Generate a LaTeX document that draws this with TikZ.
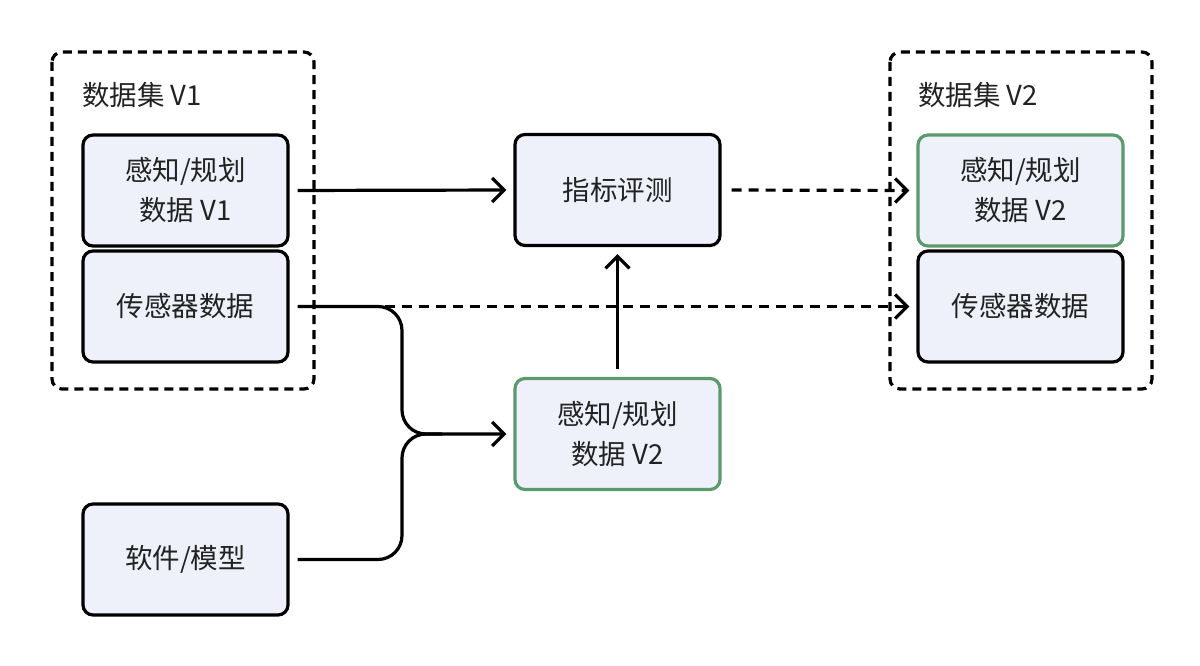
\documentclass[tikz,border=0pt]{standalone}
\usepackage{fontspec}
\setmainfont{Noto Sans CJK SC}
\usetikzlibrary{arrows.meta}
\definecolor{boxfill}{HTML}{EEF1F9}
\definecolor{greenline}{HTML}{5A9A6B}
\definecolor{txt}{HTML}{222222}
\tikzset{
  databox/.style={draw=black, line width=3.2pt, fill=boxfill, rounded corners=10pt,
    minimum width=205pt, minimum height=111pt, inner sep=0pt, align=center,
    text=txt, font=\fontsize{27.5}{40}\selectfont},
  greenbox/.style={databox, draw=greenline},
  container/.style={draw=black, line width=3.2pt, dash pattern=on 9pt off 6pt, rounded corners=10pt},
  conn/.style={line width=3.2pt, -{Straight Barb[length=12pt,width=24pt,line width=3.2pt]}},
  dconn/.style={conn, dash pattern=on 10pt off 7pt},
  lbl/.style={anchor=west, text=txt, font=\fontsize{27.5}{30}\selectfont, inner sep=0pt}
}
\begin{document}
\begin{tikzpicture}[x=1pt,y=-1pt]
\useasboundingbox (0,0) rectangle (1200,666);
% containers
\draw[container] (52,52) rectangle (314,389);
\draw[container] (890,52) rectangle (1152,389);
\node[lbl] (l1) at (82,95) {数据集 V1};
\node[lbl] (l2) at (918,95) {数据集 V2};
% boxes
\node[databox] (A) at (185.5,190.5) {感知/规划\\数据 V1};
\node[databox] (B) at (185.5,306.5) {传感器数据};
\node[databox] (E) at (617.5,190) {指标评测};
\node[greenbox] (G) at (617.5,434) {感知/规划\\数据 V2};
\node[databox] (S) at (185.5,559.5) {软件/模型};
\node[greenbox] (RA) at (1020.5,190.5) {感知/规划\\数据 V2};
\node[databox] (RB) at (1020.5,306.5) {传感器数据};
\coordinate (j) at (402,434);
% connectors
\draw[conn, shorten <=8pt, shorten >=7pt] (A.east) -- (E.west);
\draw[dconn, shorten <=10pt, shorten >=7pt] (E.east) -- (RA.west);
\draw[dconn, shorten <=10pt, shorten >=7pt] (B.east) -- (RB.west);
\draw[conn, shorten <=8pt, shorten >=7pt, rounded corners=24pt] (B.east) -- (B.east -| j) -- (j) -- (G.west);
\draw[line width=3.2pt, shorten <=8pt, rounded corners=24pt] (S.east) -- (S.east -| j) -- (j) -- ++(40,0);
\draw[conn, shorten <=8pt, shorten >=7pt] (G.north) -- (E.south);
\end{tikzpicture}
\end{document}
